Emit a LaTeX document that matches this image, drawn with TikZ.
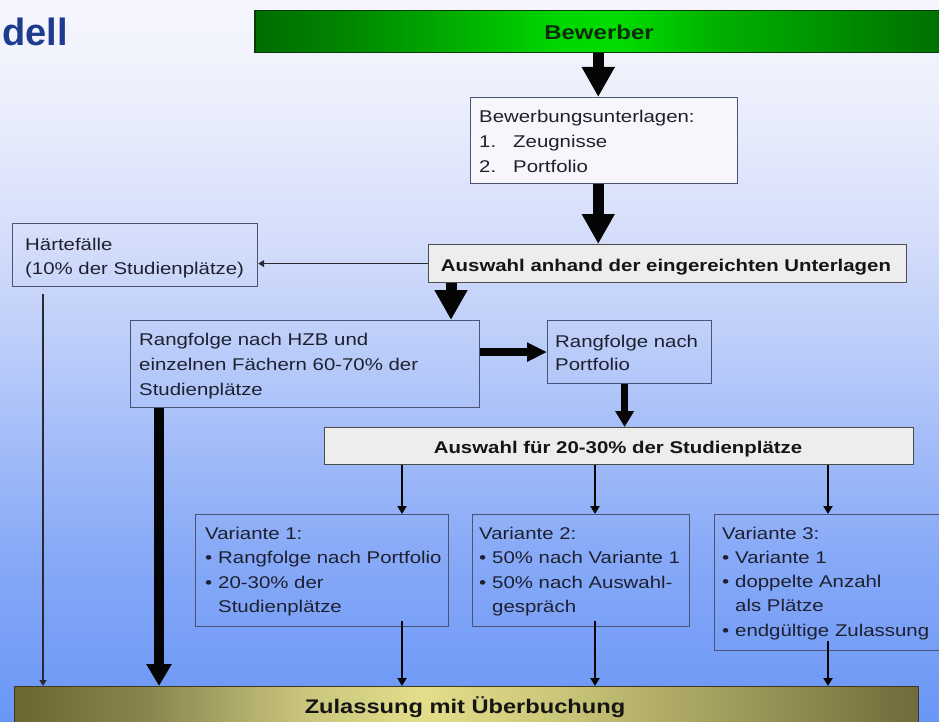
\documentclass[tikz,border=0pt]{standalone}
\usepackage{fontspec}
\setmainfont{Liberation Sans}[FakeStretch=1.2]
\newfontfamily\titlefont{Liberation Sans}
\usetikzlibrary{arrows.meta,calc}
% background
\definecolor{bga}{HTML}{F6F6FD}
\definecolor{bgb}{HTML}{ECEFFC}
\definecolor{bgc}{HTML}{D2DCFA}
\definecolor{bgd}{HTML}{AEC4F9}
\definecolor{bge}{HTML}{88AAF7}
\definecolor{bgf}{HTML}{6A96F6}
\pgfdeclareverticalshading{bgshade}{100bp}{color(0bp)=(bgf); color(25bp)=(bgf); color(36.9bp)=(bge); color(47.3bp)=(bgd); color(57.7bp)=(bgc); color(68.1bp)=(bgb); color(75bp)=(bga); color(100bp)=(bga)}
% green bar
\definecolor{gra}{HTML}{006C00}
\definecolor{grb}{HTML}{008800}
\definecolor{grc}{HTML}{00B400}
\definecolor{grd}{HTML}{00D800}
\definecolor{gre}{HTML}{00DC00}
\definecolor{grf}{HTML}{00B000}
\definecolor{grg}{HTML}{008A00}
\definecolor{grh}{HTML}{007000}
\pgfdeclarehorizontalshading{greenshade}{100bp}{color(0bp)=(gra); color(25bp)=(gra); color(32bp)=(grb); color(40.7bp)=(grc); color(47.3bp)=(grd); color(51.6bp)=(gre); color(58.9bp)=(grf); color(68.4bp)=(grg); color(75bp)=(grh); color(100bp)=(grh)}
% olive bar
\definecolor{ola}{HTML}{6B6733}
\definecolor{olb}{HTML}{8A8650}
\definecolor{olc}{HTML}{C8C47C}
\definecolor{old}{HTML}{E2DE8A}
\definecolor{ole}{HTML}{CCC87A}
\definecolor{olf}{HTML}{9A9658}
\definecolor{olg}{HTML}{6F6B3B}
\pgfdeclarehorizontalshading{oliveshade}{100bp}{color(0bp)=(ola); color(25bp)=(ola); color(32.5bp)=(olb); color(40.8bp)=(olc); color(47.5bp)=(old); color(54.7bp)=(ole); color(65.8bp)=(olf); color(75bp)=(olg); color(100bp)=(olg)}
% others
\definecolor{boxline}{HTML}{4A5275}
\definecolor{txtcol}{HTML}{1E2030}
\definecolor{btxtcol}{HTML}{151515}
\definecolor{titleblue}{HTML}{1D3C8E}
\definecolor{greentxt}{HTML}{0B2B0B}
\definecolor{greenline}{HTML}{0A3A0A}
\definecolor{oliveline}{HTML}{3A3A20}
\definecolor{lightfill}{HTML}{F6F6FB}
\definecolor{grayfill}{HTML}{EDEDED}
\definecolor{arrowcol}{HTML}{050505}
\definecolor{haircol}{HTML}{2A2A35}

\begin{document}
\begin{tikzpicture}[x=1pt,y=-1pt,
  box/.style={draw=boxline, line width=1.2pt, anchor=north west, inner sep=0pt},
  txt/.style={inner sep=0pt, anchor=base west, text=txtcol, font=\fontsize{17}{24.5}\selectfont},
  btxt/.style={inner sep=0pt, anchor=base, text=btxtcol, font=\fontsize{17}{20}\selectfont\bfseries},
  bigarrow/.style={draw=arrowcol, line width=11pt, -{Triangle[width=31pt,length=30pt]}},
  medarrow/.style={draw=arrowcol, line width=10pt, -{Triangle[width=24pt,length=22pt]}},
  sidearrow/.style={draw=arrowcol, line width=8pt, -{Triangle[width=18pt,length=20pt]}},
  downarrow/.style={draw=arrowcol, line width=7pt, -{Triangle[width=18pt,length=16pt]}},
  thinarrow/.style={draw=arrowcol, line width=2.5pt, -{Triangle[width=9pt,length=8pt]}},
  hairarrow/.style={draw=haircol, line width=1.3pt, -{Triangle[width=7pt,length=6pt]}}
]
\useasboundingbox (0,0) rectangle (939,722);
\clip (0,0) rectangle (939,722);
\path[shading=bgshade] (0,0) rectangle (939,722);

% title fragment
\node[inner sep=0pt, anchor=base west, text=titleblue, font=\titlefont\bfseries\fontsize{38}{40}\selectfont] (title) at (2,46) {dell};

% bars
\node[draw=greenline, line width=1.5pt, shading=greenshade, anchor=north west, inner sep=0pt, minimum width=687pt, minimum height=42pt] (bewerber) at (254,10) {};
\node[draw=oliveline, line width=1.2pt, shading=oliveshade, anchor=north west, inner sep=0pt, minimum width=904pt, minimum height=54pt] (zul) at (14,686) {};

% boxes
\node[box, fill=lightfill, minimum width=267pt, minimum height=86pt] (unterl) at (470,97) {};
\node[box, draw=black!70, fill=grayfill, minimum width=478pt, minimum height=38pt] (auswahl) at (428,244) {};
\node[box, minimum width=245pt, minimum height=63pt] (haerte) at (12,223) {};
\node[box, minimum width=349pt, minimum height=87pt] (hzb) at (130,320) {};
\node[box, minimum width=164pt, minimum height=63pt] (portf) at (547,320) {};
\node[box, draw=black!70, fill=grayfill, minimum width=589pt, minimum height=37pt] (ausw2) at (324,427) {};
\node[box, minimum width=253pt, minimum height=112pt] (v1) at (195,514) {};
\node[box, minimum width=217pt, minimum height=112pt] (v2) at (472,514) {};
\node[box, minimum width=236pt, minimum height=136pt] (v3) at (714,514) {};

% connectors
\draw[bigarrow] (bewerber.south) -- (bewerber.south |- unterl.north);
\draw[bigarrow] (unterl.south -| bewerber.south) -- (bewerber.south |- auswahl.north);
\coordinate (a1) at ($(auswahl.south west)+(23,0)$);
\draw[bigarrow] (a1) -- (a1 |- hzb.north);
\draw[hairarrow] (auswahl.west) -- (auswahl.west -| haerte.east);
\coordinate (h1) at ($(haerte.south west)+(31,7)$);
\draw[hairarrow] (h1) -- (h1 |- zul.north);
\coordinate (z1) at ($(hzb.south west)+(29,0)$);
\draw[medarrow] (z1) -- (z1 |- zul.north);
\draw[sidearrow] (portf.west -| hzb.east) -- (portf.west);
\coordinate (p1) at ($(portf.south)+(-5,0)$);
\draw[downarrow] (p1) -- (p1 |- ausw2.north);
\coordinate (k1) at ($(ausw2.south west)+(78,0)$);
\coordinate (k2) at ($(ausw2.south west)+(271,0)$);
\coordinate (k3) at ($(ausw2.south west)+(504,0)$);
\draw[thinarrow] (k1) -- (k1 |- v1.north);
\draw[thinarrow] (k2) -- (k2 |- v2.north);
\draw[thinarrow] (k3) -- (k3 |- v3.north);
\draw[thinarrow] ($(k1 |- v1.south)+(0,-6)$) -- (k1 |- zul.north);
\draw[thinarrow] ($(k2 |- v2.south)+(0,-6)$) -- (k2 |- zul.north);
\draw[thinarrow] ($(k3 |- v3.south)+(0,-10)$) -- (k3 |- zul.north);

% texts
\node[btxt, text=greentxt, font=\fontsize{20}{22}\selectfont\bfseries] (t-bewerber) at (599,40) {Bewerber};
\node[txt, font=\fontsize{17}{25}\selectfont] (t-unterl) at (479,123) {\begin{tabular}[t]{@{}l@{}l@{}}\multicolumn{2}{@{}l@{}}{Bewerbungsunterlagen:}\\ \makebox[34pt][l]{1.} & Zeugnisse\\ \makebox[34pt][l]{2.} & Portfolio\end{tabular}};
\node[btxt] (t-auswahl) at (666,271) {Auswahl anhand der eingereichten Unterlagen};
\node[txt, font=\fontsize{17}{24}\selectfont] (t-haerte) at (25,250) {\begin{tabular}[t]{@{}l@{}}Härtefälle\\(10\% der Studienplätze)\end{tabular}};
\node[txt, font=\fontsize{17}{25}\selectfont] (t-hzb) at (139,345) {\begin{tabular}[t]{@{}l@{}}Rangfolge nach HZB und\\einzelnen Fächern 60-70\% der\\Studienplätze\end{tabular}};
\node[txt, font=\fontsize{17}{23.5}\selectfont] (t-portf) at (555,347) {\begin{tabular}[t]{@{}l@{}}Rangfolge nach\\Portfolio\end{tabular}};
\node[btxt] (t-ausw2) at (618,453) {Auswahl für 20-30\% der Studienplätze};
\node[txt] (t-v1) at (205,539) {\begin{tabular}[t]{@{}l@{}l@{}}\multicolumn{2}{@{}l@{}}{Variante 1:}\\ \makebox[13pt][l]{\textbullet} & Rangfolge nach Portfolio\\ \makebox[13pt][l]{\textbullet} & 20-30\% der\\ & Studienplätze\end{tabular}};
\node[txt] (t-v2) at (479,539) {\begin{tabular}[t]{@{}l@{}l@{}}\multicolumn{2}{@{}l@{}}{Variante 2:}\\ \makebox[13pt][l]{\textbullet} & 50\% nach Variante 1\\ \makebox[13pt][l]{\textbullet} & 50\% nach Auswahl-\\ & gespräch\end{tabular}};
\node[txt, font=\fontsize{17}{24.25}\selectfont] (t-v3) at (722,539) {\begin{tabular}[t]{@{}l@{}l@{}}\multicolumn{2}{@{}l@{}}{Variante 3:}\\ \makebox[13pt][l]{\textbullet} & Variante 1\\ \makebox[13pt][l]{\textbullet} & doppelte Anzahl\\ & als Plätze\\ \makebox[13pt][l]{\textbullet} & endgültige Zulassung\end{tabular}};
\node[btxt, font=\fontsize{19.7}{22}\selectfont\bfseries] (t-zul) at (465,713) {Zulassung mit Überbuchung};
\end{tikzpicture}
\end{document}
